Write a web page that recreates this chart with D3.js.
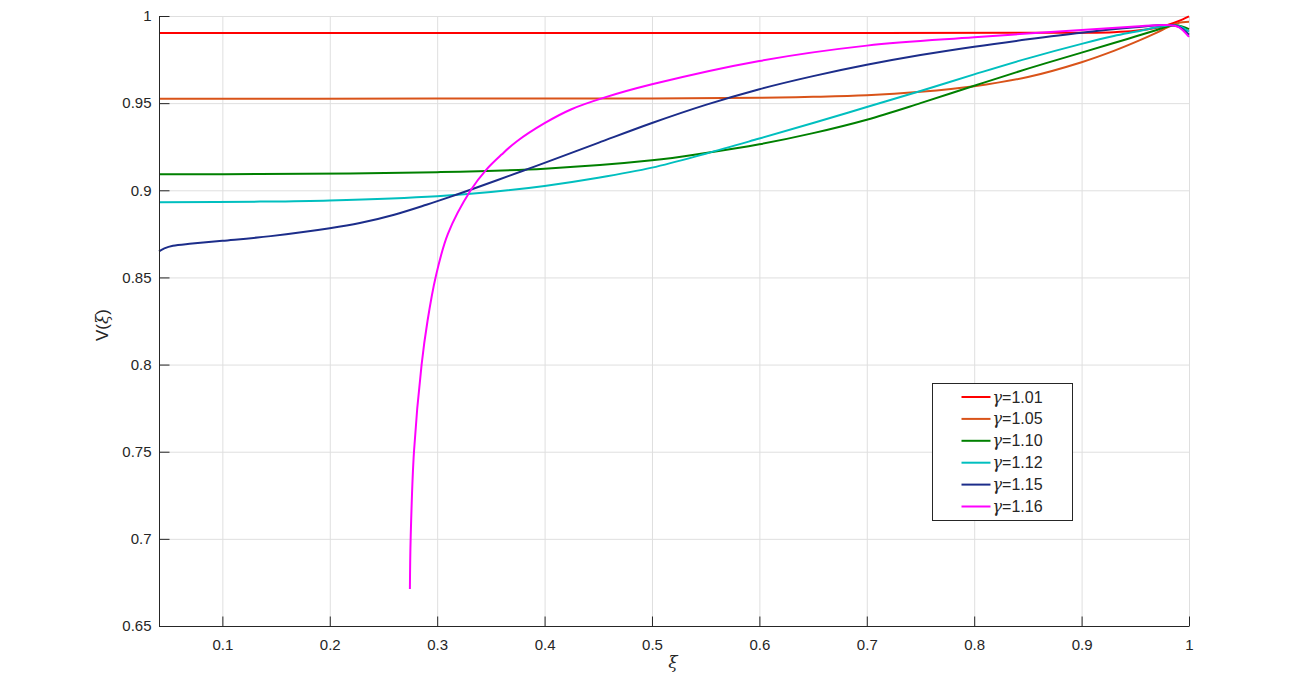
<!DOCTYPE html>
<html>
<head>
<meta charset="utf-8">
<script src="https://cdn.jsdelivr.net/npm/d3@7"></script>
<style>
    body { margin: 0; background: #fff; }
    text { font-family: "Liberation Sans", Arial, sans-serif; }
</style>
</head>
<body>
<svg id="svg-line-chart"></svg>
<script>
// values
var gammaLabels = ["1.01", "1.05", "1.10", "1.12", "1.15", "1.16"];
var lineColors = ["#ff0000", "#d95319", "#008000", "#00bfbf", "#1c2d8a", "#ff00ff"];

var xiRed = [0.041, 0.3, 0.6, 0.9, 0.93, 0.95, 0.97, 0.98, 0.99, 1.0];
var vRed = [0.9902, 0.9902, 0.9903, 0.9904, 0.9907, 0.9915, 0.9933, 0.9948, 0.9970, 0.9998];

var xiOrange = [0.041, 0.3, 0.5, 0.6, 0.65, 0.7, 0.75, 0.8, 0.85, 0.9, 0.93, 0.95, 0.97, 0.98, 0.99, 1.0];
var vOrange = [0.9525, 0.9526, 0.9527, 0.9531, 0.9536, 0.9545, 0.9565, 0.9597, 0.9650, 0.9735, 0.9800, 0.9850, 0.9905, 0.9935, 0.9960, 0.9967];

var xiGreen = [0.041, 0.135, 0.3, 0.4, 0.5, 0.55, 0.6, 0.65, 0.7, 0.75, 0.8, 0.85, 0.9, 0.93, 0.95, 0.97, 0.98, 0.99, 1.0];
var vGreen = [0.9092, 0.9093, 0.9104, 0.9124, 0.9172, 0.9214, 0.9264, 0.9328, 0.9405, 0.9500, 0.9600, 0.9698, 0.9790, 0.9845, 0.9882, 0.9920, 0.9940, 0.9946, 0.9925];

var xiCyan = [0.041, 0.135, 0.2, 0.3, 0.35, 0.4, 0.45, 0.5, 0.55, 0.6, 0.65, 0.7, 0.75, 0.8, 0.85, 0.9, 0.93, 0.95, 0.97, 0.98, 0.99, 1.0];
var vCyan = [0.8931, 0.8935, 0.8942, 0.8966, 0.8990, 0.9025, 0.9072, 0.9130, 0.9210, 0.9297, 0.9386, 0.9478, 0.9570, 0.9665, 0.9757, 0.9840, 0.9885, 0.9910, 0.9935, 0.9946, 0.9944, 0.9910];

var xiBlue = [0.041, 0.046, 0.054, 0.072, 0.1, 0.145, 0.2, 0.228, 0.26, 0.29, 0.312, 0.333, 0.38, 0.4, 0.45, 0.5, 0.55, 0.6, 0.65, 0.7, 0.75, 0.8, 0.85, 0.9, 0.95, 0.98, 0.99, 1.0];
var vBlue = [0.8650, 0.8667, 0.8682, 0.8694, 0.8710, 0.8737, 0.8782, 0.8812, 0.8860, 0.8917, 0.8962, 0.9007, 0.9112, 0.9157, 0.9272, 0.9386, 0.9490, 0.9580, 0.9655, 0.9720, 0.9776, 0.9824, 0.9866, 0.9904, 0.9935, 0.9948, 0.9940, 0.9893];

var xiMagenta = [0.2746, 0.2753, 0.2784, 0.2855, 0.2910, 0.2985, 0.3100, 0.3312, 0.346, 0.36, 0.374, 0.4, 0.425, 0.4547, 0.5, 0.6, 0.7, 0.8, 0.9, 0.95, 0.98, 0.99, 1.0];
var vMagenta = [0.6712, 0.7000, 0.7500, 0.8000, 0.8250, 0.8500, 0.8750, 0.9000, 0.9120, 0.9205, 0.9280, 0.9385, 0.9465, 0.9530, 0.9608, 0.9742, 0.9830, 0.9878, 0.9920, 0.9940, 0.9948, 0.9938, 0.9880];

var xTicks = [0.1, 0.2, 0.3, 0.4, 0.5, 0.6, 0.7, 0.8, 0.9, 1];
var yTicks = [0.65, 0.7, 0.75, 0.8, 0.85, 0.9, 0.95, 1];

var width = 1297, height = 673;
var marginLeft = 159, marginRight = 108, marginTop = 16, marginBottom = 47;
var axisColor = "#262626", gridColor = "#dfdfdf";

var series = [
    { xi: xiRed, v: vRed },
    { xi: xiOrange, v: vOrange },
    { xi: xiGreen, v: vGreen },
    { xi: xiCyan, v: vCyan },
    { xi: xiBlue, v: vBlue },
    { xi: xiMagenta, v: vMagenta }
].map((s, i) => ({
    label: gammaLabels[i],
    color: lineColors[i],
    points: s.xi.map((x, j) => ({ x: x, y: s.v[j] }))
}));

var xScale = d3.scaleLinear([0.041, 1], [marginLeft, width - marginRight]);
var yScale = d3.scaleLinear([0.65, 1], [height - marginBottom, marginTop]);

var svg = d3.select("#svg-line-chart")
    .attr("width", width)
    .attr("height", height)
    .attr("viewBox", [0, 0, width, height]);

// grid
svg.append("g")
    .selectAll("line")
    .data(xTicks)
    .join("line")
    .attr("x1", d => xScale(d) + 0.5).attr("x2", d => xScale(d) + 0.5)
    .attr("y1", marginTop).attr("y2", height - marginBottom)
    .attr("stroke", gridColor);

svg.append("g")
    .selectAll("line")
    .data(yTicks)
    .join("line")
    .attr("x1", marginLeft).attr("x2", width - marginRight)
    .attr("y1", d => yScale(d) + 0.5).attr("y2", d => yScale(d) + 0.5)
    .attr("stroke", gridColor);

// curves - centripetal catmull-rom copes with the near vertical magenta branch
var line = d3.line()
    .curve(d3.curveCatmullRom.alpha(0.5))
    .x(d => xScale(d.x))
    .y(d => yScale(d.y));

svg.append("g")
    .selectAll("path")
    .data(series)
    .join("path")
    .attr("fill", "none")
    .attr("stroke", d => d.color)
    .attr("stroke-width", 2)
    .attr("stroke-linejoin", "round")
    .attr("d", d => line(d.points));

// axes, ticks pointing inward like matlab
var xAxis = d3.axisBottom(xScale)
    .tickValues(xTicks)
    .tickFormat(d3.format("~g"))
    .tickSizeInner(-10)
    .tickSizeOuter(0)
    .tickPadding(13);

var yAxis = d3.axisLeft(yScale)
    .tickValues(yTicks)
    .tickFormat(d3.format("~g"))
    .tickSizeInner(-10)
    .tickSizeOuter(0)
    .tickPadding(8);

svg.append("g")
    .attr("transform", `translate(0,${height - marginBottom + 0.5})`)
    .call(xAxis)
    .call(g => g.select(".domain").attr("stroke", axisColor).attr("d", `M${marginLeft},0H${width - marginRight}`))
    .call(g => g.selectAll(".tick line").attr("stroke", axisColor))
    .call(g => g.selectAll(".tick text")
        .attr("fill", axisColor)
        .style("font-size", "15px")
        .style("font-family", "Liberation Sans, Arial, sans-serif"));

svg.append("g")
    .attr("transform", `translate(${marginLeft + 0.5},0)`)
    .call(yAxis)
    .call(g => g.select(".domain").attr("stroke", axisColor).attr("d", `M0,${marginTop}V${height - marginBottom}`))
    .call(g => g.selectAll(".tick line").attr("stroke", axisColor))
    .call(g => g.selectAll(".tick text")
        .attr("fill", axisColor)
        .style("font-size", "15px")
        .style("font-family", "Liberation Sans, Arial, sans-serif"));

// axis labels
svg.append("text")
    .attr("x", 673)
    .attr("y", 668)
    .attr("text-anchor", "middle")
    .attr("fill", axisColor)
    .style("font-size", "17px")
    .style("font-style", "italic")
    .style("font-family", "DejaVu Serif, serif")
    .text("ξ");

var yLabel = svg.append("text")
    .attr("transform", "translate(108,325) rotate(-90)")
    .attr("text-anchor", "middle")
    .attr("fill", axisColor)
    .style("font-size", "17px");
yLabel.append("tspan").text("V(");
yLabel.append("tspan").style("font-style", "italic").style("font-family", "DejaVu Serif, serif").text("ξ");
yLabel.append("tspan").text(")");

// legend
var legend = svg.append("g").attr("transform", "translate(932.5,383.5)");

legend.append("rect")
    .attr("width", 140)
    .attr("height", 137)
    .attr("fill", "#fff")
    .attr("stroke", axisColor);

var rows = legend.selectAll("g.row")
    .data(series)
    .join("g")
    .attr("class", "row")
    .attr("transform", (d, i) => `translate(0,${13.5 + i * 21.9})`);

rows.append("line")
    .attr("x1", 29).attr("x2", 58)
    .attr("stroke", d => d.color)
    .attr("stroke-width", 2);

var labels = rows.append("text")
    .attr("x", 60)
    .attr("y", 5.5)
    .attr("fill", axisColor)
    .style("font-size", "16px");
labels.append("tspan").style("font-family", "DejaVu Serif, serif").style("font-style", "italic").text("γ");
labels.append("tspan").text(d => "=" + d.label);
</script>
</body>
</html>
